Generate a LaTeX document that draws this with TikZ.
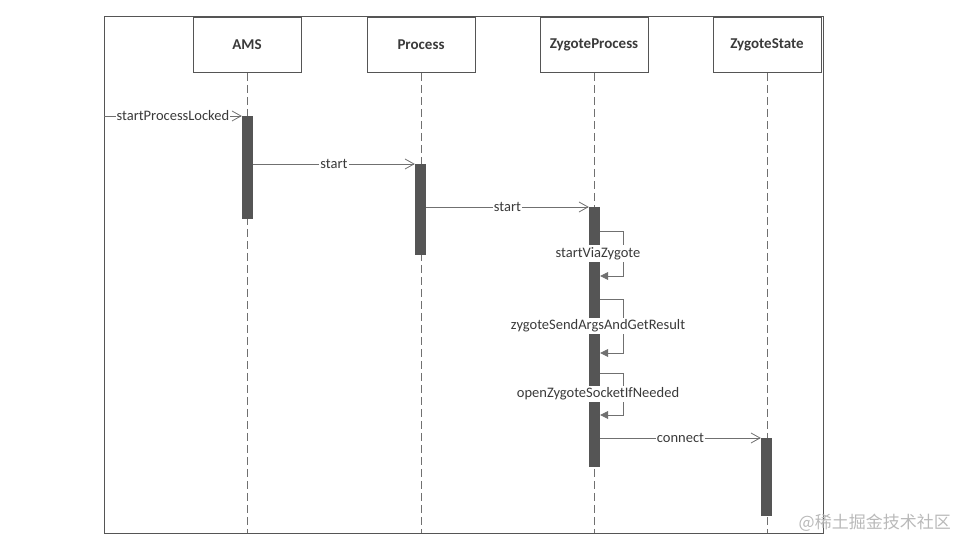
\documentclass[tikz,border=0pt]{standalone}
\usepackage{fontspec}
\setmainfont{Carlito}
\newfontfamily\cjk{Noto Sans CJK SC}
\usetikzlibrary{arrows.meta}
\definecolor{framegray}{HTML}{555555}
\definecolor{bargray}{HTML}{555555}
\definecolor{linegray}{HTML}{707070}
\definecolor{textgray}{HTML}{3A3A3A}
\tikzset{
  head/.style={draw=framegray, line width=0.9pt, minimum width=108pt, minimum height=55pt,
    text=textgray, font=\bfseries\fontsize{15}{17}\selectfont},
  bar/.style={fill=bargray, minimum width=11pt, inner sep=0pt, anchor=north},
  life/.style={draw=linegray, line width=0.8pt, dash pattern=on 8pt off 4pt},
  msg/.style={draw=linegray, line width=0.8pt, -{Straight Barb[length=9pt,width=10pt]}},
  selfmsg/.style={draw=linegray, line width=0.8pt, -{Triangle[length=8pt,width=8pt]}},
  lbl/.style={fill=white, inner xsep=1pt, inner ysep=2pt, text=textgray, font=\fontsize{14.5}{16}\selectfont},
}
\begin{document}
\begin{tikzpicture}[x=1pt,y=-1pt]
  \useasboundingbox (0,0) rectangle (956,540);
  \def\top{16}
  %% frame
  \draw[framegray, line width=0.9pt] (104,\top) rectangle (823,533);
  \coordinate (bottom) at (0,533);
  \coordinate (entry) at (104,116);
  %% participants and lifelines
  \foreach \name/\x/\txt in {ams/247/AMS, proc/421/Process, zp/594/ZygoteProcess, zs/767/ZygoteState}{
    \node[head] (\name) at (\x,45) {\txt};
    \draw[life] (\name.south) -- (\name.south |- bottom);
  }
  %% activations
  \node[bar, minimum height=103pt] (amsbar) at (247.5,116) {};
  \node[bar, minimum height=91pt] (procbar) at (420.5,164) {};
  \node[bar, minimum height=260pt] (zpbar) at (594.5,207) {};
  \node[bar, minimum height=78pt] (zsbar) at (766.5,438) {};
  %% calls
  \draw[msg] (entry |- amsbar.north) -- (amsbar.north west) node[lbl, midway] (lockcall) {startProcessLocked};
  \draw[msg] (amsbar.east |- procbar.north) -- (procbar.north west) node[lbl, midway] (startcall) {start};
  \draw[msg] (procbar.east |- zpbar.north) -- (zpbar.north west) node[lbl, midway] (zstartcall) {start};
  \foreach \ya/\yb/\txt in {231/276/startViaZygote, 299/353/zygoteSendArgsAndGetResult, 373/415/openZygoteSocketIfNeeded}{
    \draw[selfmsg] (zpbar.east |- 0,\ya) -- ++(23,0) |- (zpbar.east |- 0,\yb);
    \node[lbl] (self\ya) at (598,{(\ya+\yb)/2}) {\txt};
  }
  \draw[msg] (zpbar.east |- zsbar.north) -- (zsbar.north west) node[lbl, midway] (connectcall) {connect};
  %% watermark
  \node[anchor=east, inner sep=0pt, text=gray!55, font=\cjk\fontsize{17}{17}\selectfont] (mark) at (951,523) {@稀土掘金技术社区};
\end{tikzpicture}
\end{document}
